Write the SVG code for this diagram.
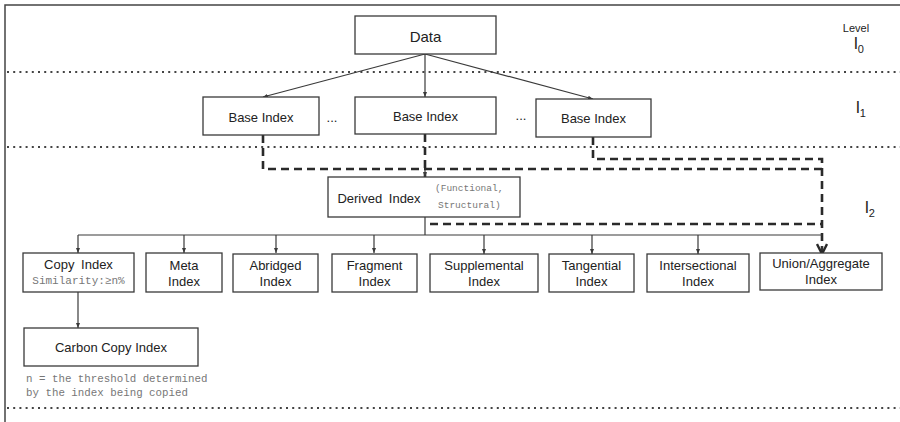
<svg xmlns="http://www.w3.org/2000/svg" width="900" height="422" viewBox="0 0 900 422">
<defs>
<style>
.box{fill:#fff;stroke:#3a3a3a;stroke-width:1.3}
.t{font-family:"Liberation Sans",Arial,sans-serif;font-size:13px;fill:#222;text-anchor:middle}
.big{font-size:15px}
.mono{font-family:"Liberation Mono","Courier New",monospace;fill:#777}
.ln{fill:none;stroke:#3a3a3a;stroke-width:1.2}
.dash{fill:none;stroke:#2a2a2a;stroke-width:2.6;stroke-dasharray:8 5}
.dot{fill:none;stroke:#444;stroke-width:2;stroke-dasharray:2 4.2}
.frame{fill:none;stroke:#444;stroke-width:1.5}
.lvl{font-family:"Liberation Sans",Arial,sans-serif;fill:#222}
</style>
<marker id="ah" viewBox="0 0 10 10" refX="10" refY="5" markerWidth="5" markerHeight="5" markerUnits="userSpaceOnUse" orient="auto">
<path d="M0,1 L10,5 L0,9 Z" fill="#3a3a3a"/>
</marker>
<marker id="bh" viewBox="0 0 12 12" refX="11" refY="6" markerWidth="12" markerHeight="12" markerUnits="userSpaceOnUse" orient="auto">
<path d="M1,1 L11,6 L1,11" fill="none" stroke="#2a2a2a" stroke-width="2.4"/>
</marker>
</defs>
<rect width="900" height="422" fill="#fff"/>
<g id="frame">
<path class="frame" d="M5,422 V5 H900"/>
<path class="dot" d="M7,72 H900"/>
<path class="dot" d="M7,147 H900"/>
<path class="dot" d="M7,408 H900"/>
</g>
<g id="levels">
<text class="lvl" x="856" y="32" font-size="11" text-anchor="middle">Level</text>
<text class="lvl" x="854" y="49" font-size="17">l<tspan font-size="11" dy="4">0</tspan></text>
<text class="lvl" x="856" y="113" font-size="17">l<tspan font-size="11" dy="4">1</tspan></text>
<text class="lvl" x="865" y="213" font-size="17">l<tspan font-size="11" dy="4">2</tspan></text>
</g>
<g id="connectors">
<path class="ln" d="M425,54 L263,97" marker-end="url(#ah)"/>
<path class="ln" d="M425,54 L425,97" marker-end="url(#ah)"/>
<path class="ln" d="M425,54 L593,99" marker-end="url(#ah)"/>
<path class="dash" d="M263,135 V169 H822"/>
<path class="dash" d="M425,134 V177"/>
<path class="ln" d="M425,170 V177" marker-end="url(#ah)"/>
<path class="dash" d="M593,137 V159 H822 V252"/>
<path class="ln" d="M822,246 V254" stroke-width="2.4" marker-end="url(#bh)"/>
<path class="dash" d="M430,224 H822"/>
<path class="ln" d="M425,217 V235"/>
<path class="ln" d="M78,235 H822"/>
<path class="ln" d="M78,235 V253" marker-end="url(#ah)"/>
<path class="ln" d="M184,235 V253" marker-end="url(#ah)"/>
<path class="ln" d="M276,235 V253" marker-end="url(#ah)"/>
<path class="ln" d="M374,235 V253" marker-end="url(#ah)"/>
<path class="ln" d="M484,235 V254" marker-end="url(#ah)"/>
<path class="ln" d="M592,235 V254" marker-end="url(#ah)"/>
<path class="ln" d="M698,235 V254" marker-end="url(#ah)"/>
<path class="ln" d="M78,292 V328" marker-end="url(#ah)"/>
</g>
<g id="data">
<rect class="box" x="355" y="16" width="141" height="38"/>
<text class="t big" x="425.5" y="42">Data</text>
</g>
<g id="base1">
<rect class="box" x="203" y="97" width="116" height="38"/>
<text class="t" x="261" y="122">Base Index</text>
</g>
<text class="t" x="332" y="122">...</text>
<g id="base2">
<rect class="box" x="355" y="97" width="141" height="37"/>
<text class="t" x="425.5" y="121">Base Index</text>
</g>
<text class="t" x="521" y="120">...</text>
<g id="base3">
<rect class="box" x="536" y="99" width="115" height="38"/>
<text class="t" x="593.5" y="123">Base Index</text>
</g>
<g id="derived">
<rect class="box" x="328" y="177" width="192" height="40"/>
<text class="t" x="379" y="203" style="word-spacing:3px">Derived Index</text>
<text class="mono" x="435" y="191" font-size="9.5">(Functional,</text>
<text class="mono" x="438" y="208" font-size="9.5">Structural)</text>
</g>
<g id="copy">
<rect class="box" x="23" y="253" width="111" height="39"/>
<text class="t" x="78.5" y="269" style="word-spacing:3px">Copy Index</text>
<text class="mono" x="78.5" y="284" font-size="11" text-anchor="middle">Similarity:≥n%</text>
</g>
<g id="meta">
<rect class="box" x="146" y="253" width="76" height="39"/>
<text class="t" x="184" y="270">Meta</text>
<text class="t" x="184" y="286">Index</text>
</g>
<g id="abridged">
<rect class="box" x="233" y="254" width="85" height="38"/>
<text class="t" x="275.5" y="270">Abridged</text>
<text class="t" x="275.5" y="286">Index</text>
</g>
<g id="fragment">
<rect class="box" x="332" y="254" width="85" height="38"/>
<text class="t" x="374.5" y="270">Fragment</text>
<text class="t" x="374.5" y="286">Index</text>
</g>
<g id="supplemental">
<rect class="box" x="430" y="254" width="108" height="38"/>
<text class="t" x="484" y="270">Supplemental</text>
<text class="t" x="484" y="286">Index</text>
</g>
<g id="tangential">
<rect class="box" x="549" y="254" width="85" height="38"/>
<text class="t" x="591.5" y="270">Tangential</text>
<text class="t" x="591.5" y="286">Index</text>
</g>
<g id="intersectional">
<rect class="box" x="647" y="254" width="102" height="38"/>
<text class="t" x="698" y="270">Intersectional</text>
<text class="t" x="698" y="286">Index</text>
</g>
<g id="union">
<rect class="box" x="760" y="253" width="122" height="37"/>
<text class="t" x="821" y="268">Union/Aggregate</text>
<text class="t" x="821" y="284">Index</text>
</g>
<g id="carbon">
<rect class="box" x="24" y="328" width="174" height="38"/>
<text class="t" x="111" y="352">Carbon Copy Index</text>
</g>
<g id="note">
<text class="mono" x="26" y="382" font-size="10.8">n = the threshold determined</text>
<text class="mono" x="26" y="396" font-size="10.8">by the index being copied</text>
</g>
</svg>
